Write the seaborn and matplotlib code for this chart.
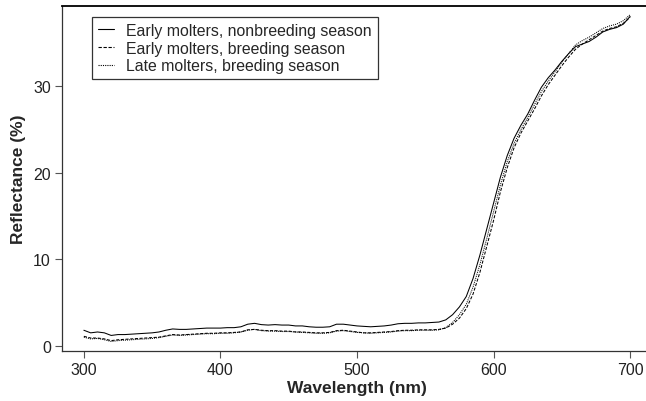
import seaborn as sns
import matplotlib.pyplot as plt
import pandas as pd
import numpy as np

# wavelengths (nm), 5 nm steps
wavelength = list(range(300, 705, 5))

early_nonbreeding = [
    1.8, 1.5, 1.6, 1.5, 1.2, 1.3, 1.3, 1.35, 1.4, 1.45,
    1.5, 1.6, 1.8, 1.95, 1.9, 1.9, 1.95, 2.0, 2.05, 2.05,
    2.05, 2.1, 2.1, 2.2, 2.5, 2.6, 2.45, 2.4, 2.45, 2.4,
    2.4, 2.3, 2.3, 2.2, 2.15, 2.15, 2.2, 2.5, 2.5, 2.4,
    2.3, 2.25, 2.2, 2.25, 2.3, 2.4, 2.55, 2.6, 2.6, 2.65,
    2.65, 2.7, 2.75, 3.0, 3.6, 4.5, 5.7, 7.8, 10.5, 13.5,
    16.5, 19.5, 22.0, 24.0, 25.5, 26.8, 28.4, 29.9, 31.0, 31.9,
    32.9, 33.8, 34.6, 34.9, 35.2, 35.7, 36.3, 36.6, 36.8, 37.2,
    38.1,
]

early_breeding = [
    1.1, 0.9, 0.9, 0.8, 0.6, 0.7, 0.75, 0.8, 0.85, 0.9,
    0.95, 1.0, 1.15, 1.3, 1.25, 1.3, 1.35, 1.4, 1.45, 1.45,
    1.5, 1.5, 1.55, 1.6, 1.85, 1.9, 1.8, 1.75, 1.75, 1.7,
    1.7, 1.6, 1.6, 1.55, 1.5, 1.5, 1.55, 1.75, 1.8, 1.7,
    1.6, 1.5, 1.5, 1.55, 1.6, 1.65, 1.75, 1.8, 1.8, 1.85,
    1.85, 1.85, 1.9, 2.05, 2.5, 3.2, 4.3, 6.0, 8.5, 11.5,
    14.5, 17.8, 20.6, 22.9, 24.6, 26.0, 27.4, 28.9, 30.2, 31.3,
    32.4, 33.4, 34.3, 34.9, 35.4, 35.9, 36.4, 36.7, 36.9, 37.3,
    38.0,
]

late_breeding = [
    1.0, 0.8, 0.85, 0.7, 0.5, 0.6, 0.65, 0.7, 0.75, 0.8,
    0.85, 0.95, 1.1, 1.25, 1.2, 1.25, 1.3, 1.35, 1.4, 1.4,
    1.45, 1.45, 1.5, 1.6, 1.8, 1.9, 1.75, 1.7, 1.7, 1.65,
    1.65, 1.6, 1.55, 1.5, 1.45, 1.45, 1.5, 1.7, 1.75, 1.65,
    1.55, 1.5, 1.45, 1.5, 1.55, 1.6, 1.7, 1.75, 1.75, 1.8,
    1.8, 1.8, 1.85, 2.1, 2.7, 3.6, 4.8, 6.8, 9.4, 12.4,
    15.5, 18.6, 21.3, 23.4, 25.0, 26.4, 27.9, 29.4, 30.6, 31.7,
    32.8, 33.8, 34.8, 35.3, 35.7, 36.2, 36.7, 37.0, 37.2, 37.6,
    38.3,
]

labels = [
    "Early molters, nonbreeding season",
    "Early molters, breeding season",
    "Late molters, breeding season",
]

df = pd.concat([
    pd.DataFrame({"wavelength": wavelength, "reflectance": vals, "group": lab})
    for vals, lab in zip([early_nonbreeding, early_breeding, late_breeding], labels)
])

sns.set_style("white")
plt.rcParams['font.family'] = ['Liberation Sans', 'DejaVu Sans']

fig = plt.figure(figsize=(6.46, 4.02), dpi=100)
ax = fig.add_axes([62 / 646, 50 / 402, 590 / 646, 345 / 402])

dashes = {labels[0]: "", labels[1]: (3, 1.5), labels[2]: (1, 1)}
sns.lineplot(data=df, x="wavelength", y="reflectance", style="group",
             dashes=dashes, color="black", linewidth=0.75, ax=ax,
             legend=True)

ax.set_xlim(284, 716)
ax.set_ylim(-0.6, 39.3)
ax.set_xticks([300, 400, 500, 600, 700])
ax.set_yticks([0, 10, 20, 30])

for s in ax.spines.values():
    s.set_color("#333333")
    s.set_linewidth(0.9)
ax.spines["top"].set_linewidth(1.3)
ax.spines["top"].set_color("black")

ax.tick_params(axis="both", direction="out", length=5, width=0.8,
               color="#555555", labelsize=11.5, labelcolor="#222222",
               bottom=True, left=True, pad=3)

ax.set_xlabel("Wavelength (nm)", fontsize=12.5, fontweight="bold", labelpad=2)
ax.set_ylabel("Reflectance (%)", fontsize=12.5, fontweight="bold", labelpad=5)

leg = ax.legend(loc="upper left", bbox_to_anchor=(0.051, 0.968),
                borderaxespad=0, fontsize=11.4, frameon=True, fancybox=False,
                edgecolor="black", handlelength=1.0, handletextpad=0.8,
                labelspacing=0.18, borderpad=0.36, title=None)
leg.get_frame().set_linewidth(0.9)
for line in leg.get_lines():
    line.set_linewidth(0.8)

fig.savefig("out.png", dpi=100)
